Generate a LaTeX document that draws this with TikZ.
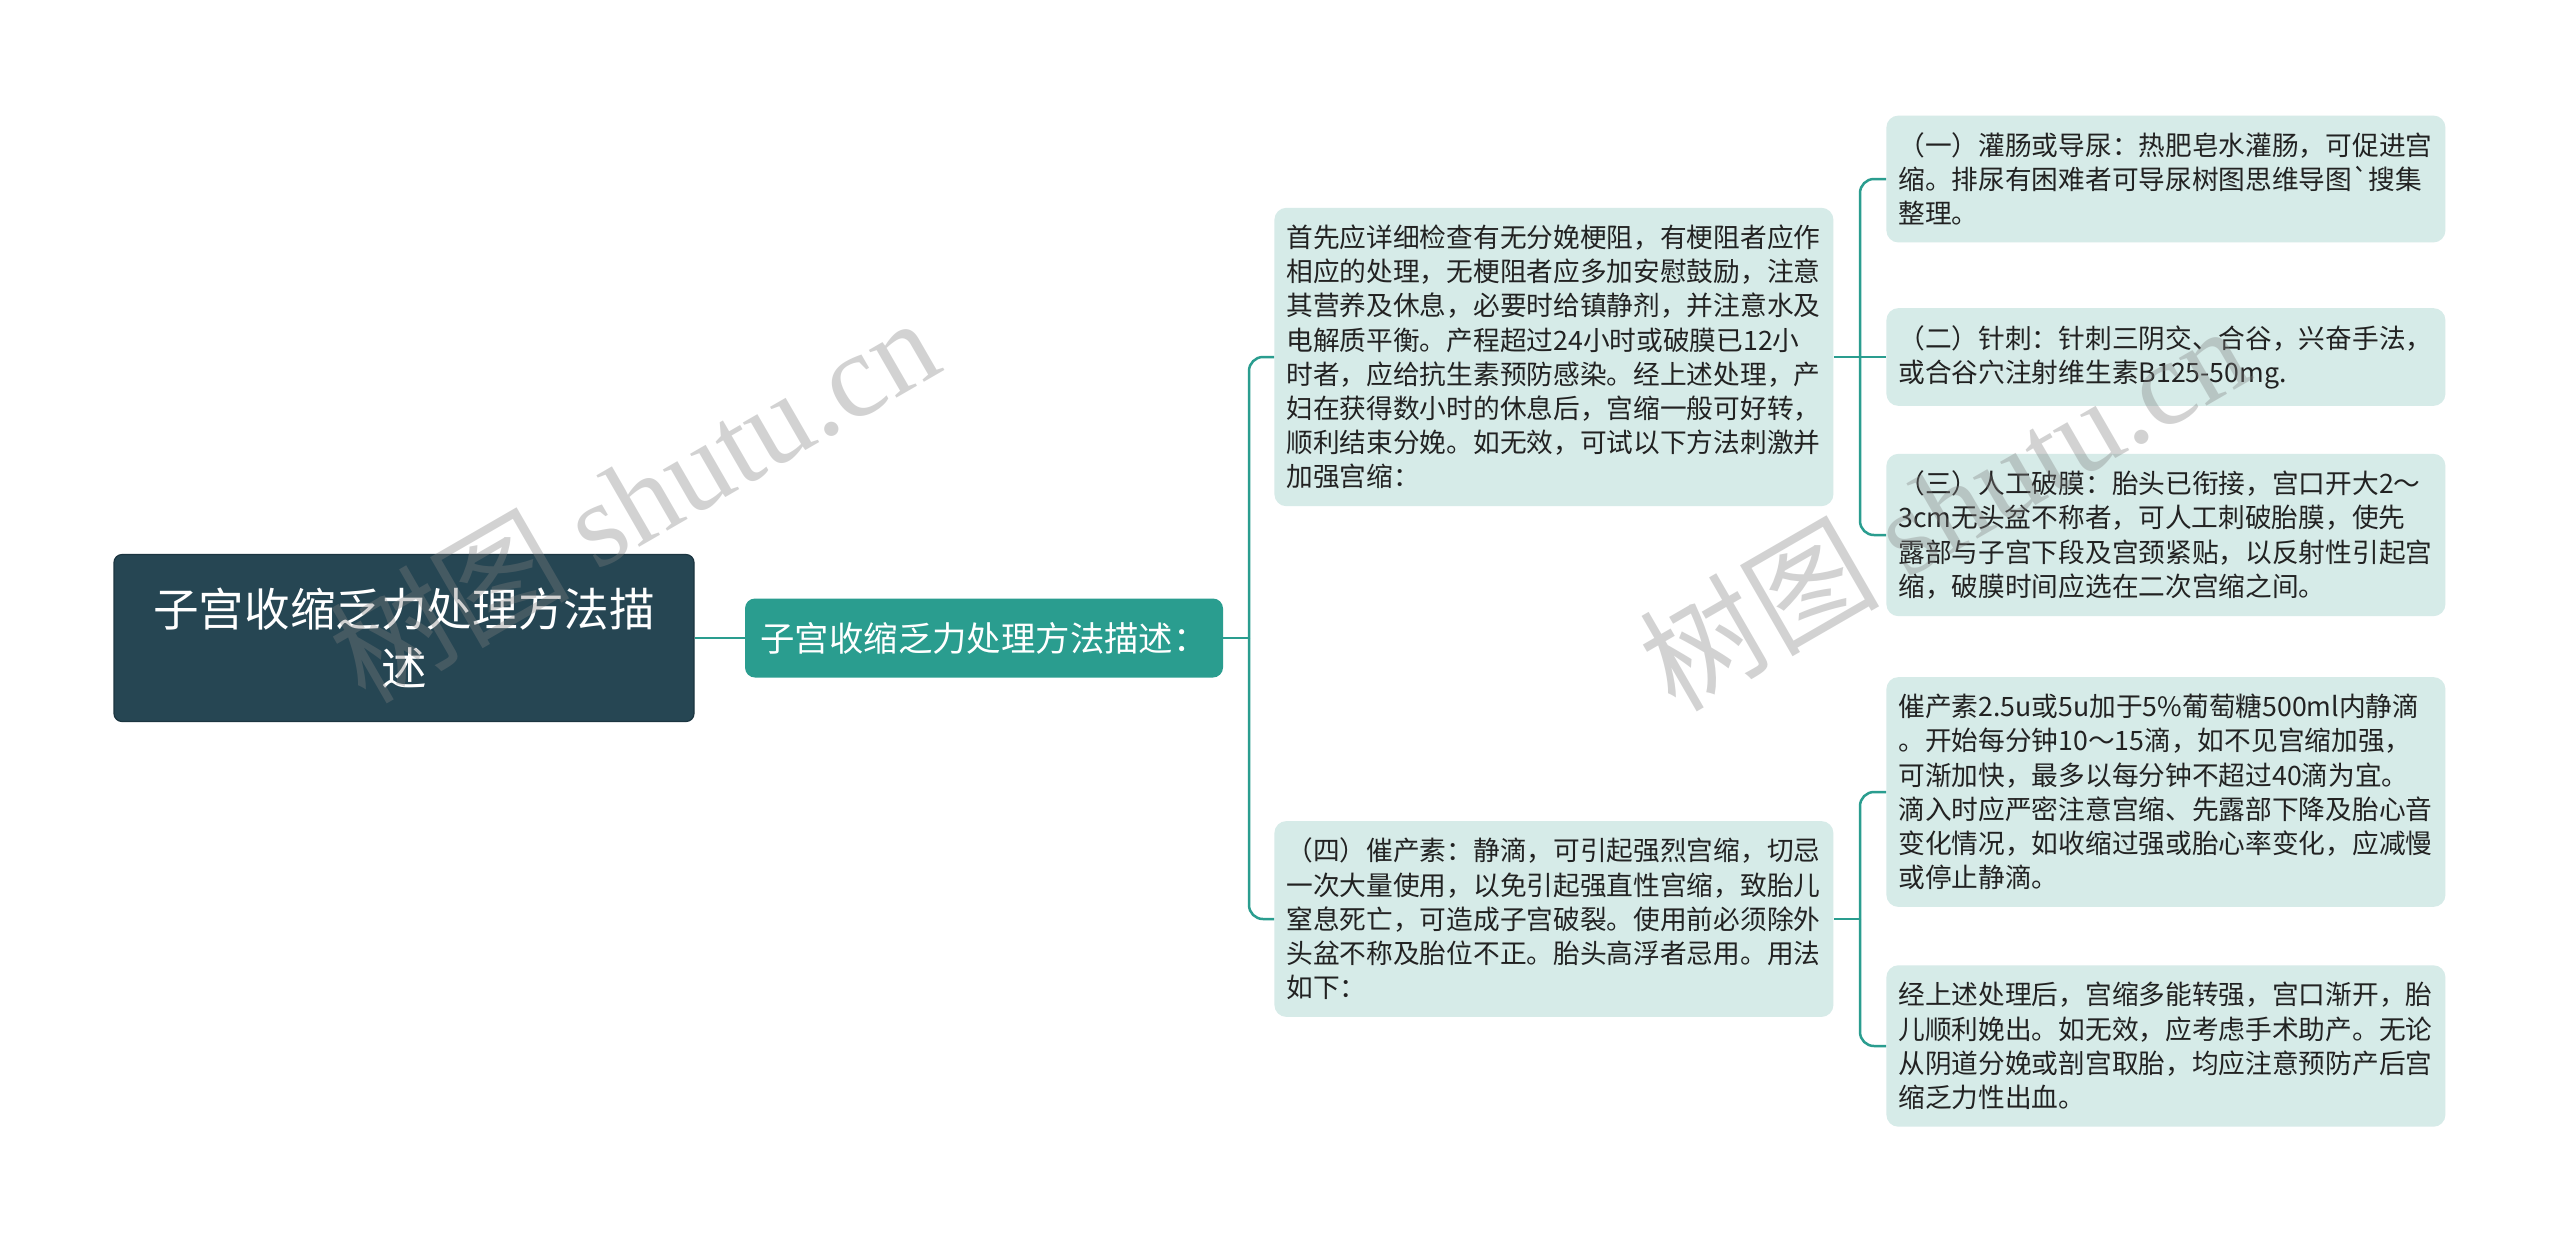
\documentclass[tikz,border=0pt]{standalone}
\usepackage{fontspec}
\setmainfont{Noto Sans CJK SC}
\newfontfamily\wmlatin{Liberation Serif}
\definecolor{rootcol}{HTML}{264653}
\definecolor{rootline}{HTML}{1B3540}
\definecolor{topiccol}{HTML}{2A9D8F}
\definecolor{notecol}{HTML}{D6EBE8}
\definecolor{linkcol}{HTML}{2A9D8F}
\definecolor{textcol}{HTML}{222222}
\definecolor{wmcol}{HTML}{808080}
\tikzset{
	rootbox/.style={fill=rootcol, draw=rootline, line width=0.6pt, rounded corners=4pt, text=white,
		font=\fontsize{22.8pt}{29.4pt}\selectfont, align=center, text width=270pt,
		minimum width=290pt, minimum height=83.5pt, inner sep=0pt},
	topicbox/.style={fill=topiccol, rounded corners=5pt, text=white,
		font=\fontsize{17.2pt}{20pt}\selectfont, minimum width=239pt, minimum height=39.5pt, inner sep=0pt},
	notebox/.style={fill=notecol, rounded corners=6pt, text=textcol, anchor=west, align=left,
		text width=267.5pt, inner xsep=6pt, inner ysep=8.5pt,
		font=\fontsize{13.35pt}{17.1pt}\selectfont},
	link/.style={draw=linkcol, line width=1.25pt},
	wmark/.style={text=wmcol, opacity=0.35, rotate=30, inner sep=0pt,
		font=\fontsize{60pt}{60pt}\selectfont}
}
\begin{document}
\begin{tikzpicture}[x=0.5pt,y=-0.5pt]
	\useasboundingbox (0,0) rectangle (2560,1244);
	\fill[white] (0,0) rectangle (2560,1244);

	\node[rootbox] (root) at (404,638) {子宫收缩乏力处理方法描\\述};
	\node[topicbox] (topic) at (984,638) {子宫收缩乏力处理方法描述：};

	\node[notebox] (first) at (1274,357) {首先应详细检查有无分娩梗阻，有梗阻者应作\\相应的处理，无梗阻者应多加安慰鼓励，注意\\其营养及休息，必要时给镇静剂，并注意水及\\电解质平衡。产程超过24小时或破膜已12小\\时者，应给抗生素预防感染。经上述处理，产\\妇在获得数小时的休息后，宫缩一般可好转，\\顺利结束分娩。如无效，可试以下方法刺激并\\加强宫缩：};
	\node[notebox] (oxy) at (1274,919) {（四）催产素：静滴，可引起强烈宫缩，切忌\\一次大量使用，以免引起强直性宫缩，致胎儿\\窒息死亡，可造成子宫破裂。使用前必须除外\\头盆不称及胎位不正。胎头高浮者忌用。用法\\如下：};

	\node[notebox] (enema) at (1886,179) {（一）灌肠或导尿：热肥皂水灌肠，可促进宫\\缩。排尿有困难者可导尿树图思维导图\textasciigrave 搜集\\整理。};
	\node[notebox] (needle) at (1886,357) {（二）针刺：针刺三阴交、合谷，兴奋手法，\\或合谷穴注射维生素B125-50mg.};
	\node[notebox] (rupture) at (1886,535) {（三）人工破膜：胎头已衔接，宫口开大2～\\3cm无头盆不称者，可人工刺破胎膜，使先\\露部与子宫下段及宫颈紧贴，以反射性引起宫\\缩，破膜时间应选在二次宫缩之间。};
	\node[notebox] (usage) at (1886,792) {催产素2.5u或5u加于5\%葡萄糖500ml内静滴\\。开始每分钟10～15滴，如不见宫缩加强，\\可渐加快，最多以每分钟不超过40滴为宜。\\滴入时应严密注意宫缩、先露部下降及胎心音\\变化情况，如收缩过强或胎心率变化，应减慢\\或停止静滴。};
	\node[notebox] (after) at (1886,1046) {经上述处理后，宫缩多能转强，宫口渐开，胎\\儿顺利娩出。如无效，应考虑手术助产。无论\\从阴道分娩或剖宫取胎，均应注意预防产后宫\\缩乏力性出血。};

	\coordinate (fork1) at (1249,638);
	\coordinate (fork2) at (1860,357);
	\coordinate (fork3) at (1860,919);

	\draw[link] (root.east) -- (topic.west);
	\draw[link] (topic.east) -- (fork1);
	\draw[link, rounded corners=7pt] (fork1) |- (first.west);
	\draw[link, rounded corners=7pt] (fork1) |- (oxy.west);
	\draw[link] (first.east) -- (fork2);
	\draw[link, rounded corners=7pt] (fork2) |- (enema.west);
	\draw[link] (fork2) -- (needle.west);
	\draw[link, rounded corners=7pt] (fork2) |- (rupture.west);
	\draw[link] (oxy.east) -- (fork3);
	\draw[link, rounded corners=7pt] (fork3) |- (usage.west);
	\draw[link, rounded corners=7pt] (fork3) |- (after.west);

	\node[wmark] (wm1) at (633,498) {树图 {\wmlatin shutu.cn}};
	\node[wmark] (wm2) at (1943,506) {树图 {\wmlatin shutu.cn}};
\end{tikzpicture}
\end{document}
